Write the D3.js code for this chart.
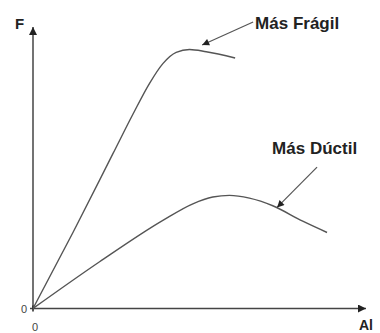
<!DOCTYPE html>
<html>
<head>
<meta charset="utf-8">
<script src="https://cdn.jsdelivr.net/npm/d3@7"></script>
<style>
  body { margin: 0; background: #fff; }
  text { font-family: "Liberation Sans", Arial, sans-serif; }
</style>
</head>
<body>
<svg width="380" height="333"></svg>
<script>
// deformacion (AL) y fuerza (F), unidades arbitrarias 0-100
const fragilX = [0, 12, 24, 30, 35, 39, 43, 47, 52, 60.7];
const fragilF = [0, 27, 55, 69, 80, 87, 91, 92, 91.2, 89];

const ductilX = [0, 20, 39, 48, 54, 59, 65, 72, 81, 88.3];
const ductilF = [0, 16.6, 31.3, 37.2, 39.6, 40.2, 39.2, 36.5, 31, 27];

const labels = [
  { text: "Más Frágil", x: 66.7, y: 99.3, from: [66.1, 101.8], to: [50.8, 93.6] },
  { text: "Más Dúctil", x: 71.8, y: 54.8, from: [85.3, 50.2], to: [73.3, 35.9] }
];

const svg = d3.select("svg");

const x = d3.scaleLinear().domain([0, 100]).range([33, 366]);
const y = d3.scaleLinear().domain([0, 100]).range([308.5, 27]);

const defs = svg.append("defs");
defs.append("marker")
  .attr("id", "head")
  .attr("viewBox", "0 0 10 10")
  .attr("refX", 10).attr("refY", 5)
  .attr("markerWidth", 10).attr("markerHeight", 8)
  .attr("markerUnits", "userSpaceOnUse")
  .attr("orient", "auto")
  .append("path").attr("d", "M0,0 L10,5 L0,10 z").attr("fill", "#222");

defs.append("marker")
  .attr("id", "small")
  .attr("viewBox", "0 0 10 10")
  .attr("refX", 10).attr("refY", 5)
  .attr("markerWidth", 9).attr("markerHeight", 7)
  .attr("markerUnits", "userSpaceOnUse")
  .attr("orient", "auto")
  .append("path").attr("d", "M0,0 L10,5 L0,10 z").attr("fill", "#222");

// ejes
svg.append("line")
  .attr("x1", x(0)).attr("y1", y(0)).attr("x2", x(0)).attr("y2", y(100))
  .attr("stroke", "#444").attr("stroke-width", 1.5)
  .attr("marker-end", "url(#head)");
svg.append("line")
  .attr("x1", x(0) - 3).attr("y1", y(0)).attr("x2", x(100)).attr("y2", y(0))
  .attr("stroke", "#444").attr("stroke-width", 1.5)
  .attr("marker-end", "url(#head)");
svg.append("line")
  .attr("x1", x(0)).attr("y1", y(0) - 3).attr("x2", x(0)).attr("y2", y(0) + 3)
  .attr("stroke", "#222").attr("stroke-width", 1.5);

svg.append("text").attr("x", 15).attr("y", 29)
  .attr("font-size", 15).attr("font-weight", "bold").attr("fill", "#222").text("F");
svg.append("text").attr("x", 359).attr("y", 330)
  .attr("font-size", 14).attr("font-weight", "bold").attr("fill", "#222").text("Al");
svg.append("text").attr("x", x(0) - 6).attr("y", y(0) + 4)
  .attr("text-anchor", "end").attr("font-size", 11).attr("fill", "#444").text("0");
svg.append("text").attr("x", x(0) + 2).attr("y", 331)
  .attr("text-anchor", "middle").attr("font-size", 11).attr("fill", "#444").text("0");

// curvas
const line = d3.line()
  .x(d => x(d[0])).y(d => y(d[1]))
  .curve(d3.curveMonotoneX);

[[fragilX, fragilF], [ductilX, ductilF]].forEach(([xs, fs]) => {
  svg.append("path")
    .datum(d3.zip(xs, fs))
    .attr("d", line)
    .attr("fill", "none")
    .attr("stroke", "#555")
    .attr("stroke-width", 1.4);
});

// etiquetas con flecha
labels.forEach(l => {
  svg.append("line")
    .attr("x1", x(l.from[0])).attr("y1", y(l.from[1]))
    .attr("x2", x(l.to[0])).attr("y2", y(l.to[1]))
    .attr("stroke", "#555").attr("stroke-width", 1.2)
    .attr("marker-end", "url(#small)");
  svg.append("text")
    .attr("x", x(l.x)).attr("y", y(l.y))
    .attr("font-size", 17).attr("font-weight", "bold").attr("fill", "#222")
    .text(l.text);
});
</script>
</body>
</html>
